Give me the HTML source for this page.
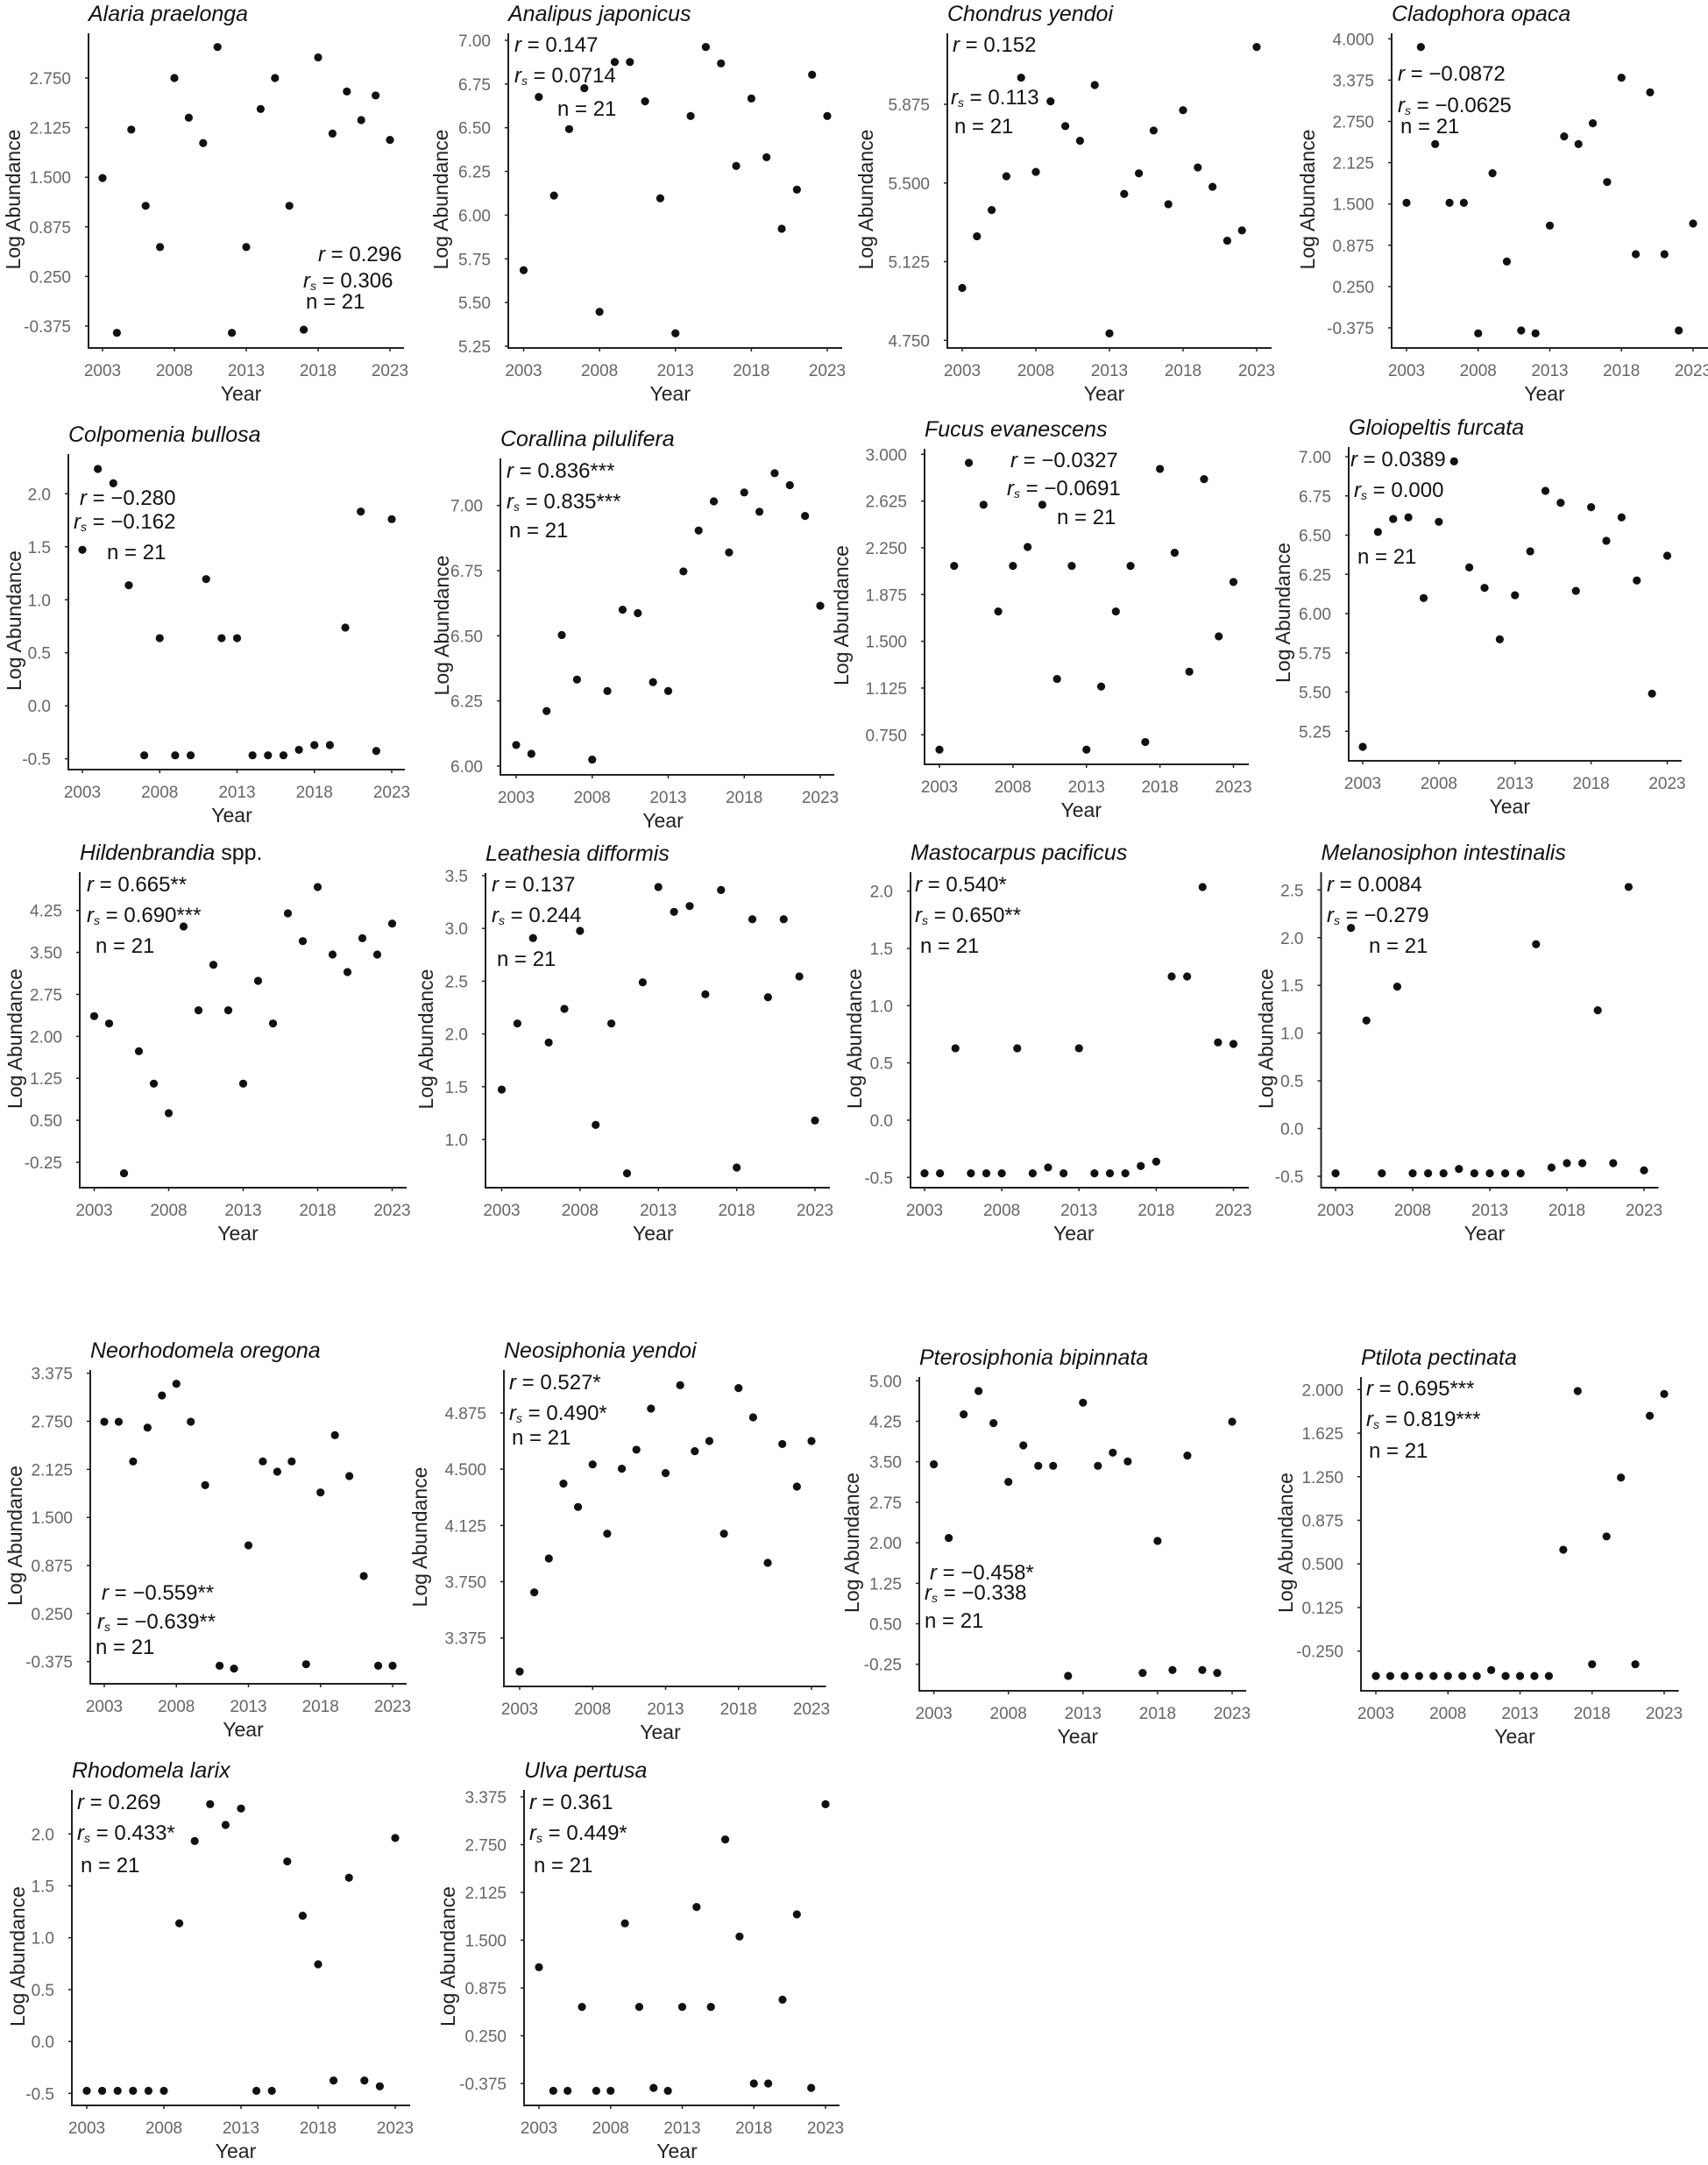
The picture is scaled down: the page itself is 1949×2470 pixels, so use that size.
<!DOCTYPE html>
<html><head><meta charset="utf-8"><style>
html,body{margin:0;padding:0;background:#fff}
svg{display:block}
text{font-family:"Liberation Sans",Arial,sans-serif}
</style></head><body>
<svg id="fig" xmlns="http://www.w3.org/2000/svg" width="1949" height="2470" viewBox="0 0 1949 2470"><rect width="1949" height="2470" fill="#fff"/></svg>
<script>
const years=[2003,2004,2005,2006,2007,2008,2009,2010,2011,2012,2013,2014,2015,2016,2017,2018,2019,2020,2021,2022,2023];
const xTicks=[2003,2008,2013,2018,2023];
const alariaValues=[1.49,-0.46,2.10,1.14,0.62,2.75,2.25,1.93,3.14,-0.46,0.62,2.36,2.75,1.14,-0.42,3.01,2.05,2.58,2.22,2.53,1.97];
const alariaTicks=[-0.375,0.25,0.875,1.5,2.125,2.75];
const analipusValues=[5.685,6.676,6.112,6.492,6.726,5.447,6.876,6.876,6.651,6.096,5.324,6.567,6.962,6.868,6.281,6.667,6.331,5.922,6.146,6.803,6.567];
const analipusTicks=[5.25,5.5,5.75,6.0,6.25,6.5,6.75,7.0];
const chondrusValues=[5.00,5.246,5.371,5.532,6.002,5.553,5.889,5.771,5.701,5.967,4.783,5.448,5.546,5.750,5.399,5.847,5.574,5.482,5.225,5.274,6.148];
const chondrusTicks=[4.75,5.125,5.5,5.875];
const cladophoraValues=[1.518,3.876,2.407,1.518,1.518,-0.459,1.965,0.629,-0.415,-0.459,1.173,2.523,2.407,2.722,1.832,3.412,0.740,3.19,0.740,-0.415,1.204];
const cladophoraTicks=[-0.375,0.25,0.875,1.5,2.125,2.75,3.375,4.0];
const colpomeniaValues=[1.471,2.234,2.099,1.137,-0.467,0.638,-0.467,-0.467,1.195,0.638,0.638,-0.467,-0.467,-0.467,-0.415,-0.370,-0.370,0.738,1.832,-0.426,1.76];
const colpomeniaTicks=[-0.5,0.0,0.5,1.0,1.5,2.0];
const corallinaValues=[6.081,6.047,6.211,6.503,6.332,6.025,6.288,6.600,6.587,6.322,6.288,6.747,6.904,7.016,6.820,7.050,6.976,7.124,7.078,6.960,6.615];
const corallinaTicks=[6.0,6.25,6.5,6.75,7.0];
const fucusValues=[0.631,2.105,2.932,2.595,1.739,2.105,2.257,2.595,1.198,2.105,0.631,1.137,1.739,2.105,0.692,2.883,2.21,1.256,2.801,1.54,1.976];
const fucusTicks=[0.75,1.125,1.5,1.875,2.25,2.625,3.0];
const gloiopeltisValues=[5.151,6.520,6.603,6.613,6.099,6.585,6.970,6.294,6.164,5.836,6.117,6.397,6.782,6.706,6.145,6.678,6.464,6.613,6.211,5.49,6.369];
const gloiopeltisTicks=[5.25,5.5,5.75,6.0,6.25,6.5,6.75,7.0];
const hildenbrandiaValues=[2.361,2.23,-0.447,1.734,1.155,0.628,3.963,2.465,3.279,2.465,1.155,2.992,2.23,4.198,3.702,4.668,3.462,3.149,3.754,3.462,4.015];
const hildenbrandiaTicks=[-0.25,0.5,1.25,2.0,2.75,3.5,4.25];
const leathesiaValues=[1.473,2.099,2.908,1.919,2.238,2.977,1.138,2.099,0.679,2.489,3.392,3.157,3.212,2.376,3.364,0.734,3.087,2.348,3.087,2.545,1.18];
const leathesiaTicks=[1.0,1.5,2.0,2.5,3.0,3.5];
const mastocarpusValues=[-0.464,-0.464,0.628,-0.464,-0.464,-0.464,0.628,-0.464,-0.413,-0.464,0.628,-0.464,-0.464,-0.464,-0.40,-0.362,1.255,1.255,2.036,0.679,0.666];
const mastocarpusTicks=[-0.5,0.0,0.5,1.0,1.5,2.0];
const melanosiphonValues=[-0.469,2.102,1.132,-0.469,1.487,-0.469,-0.469,-0.469,-0.423,-0.469,-0.469,-0.469,-0.469,1.931,-0.408,-0.362,-0.362,1.239,-0.362,2.531,-0.438];
const melanosiphonTicks=[-0.5,0.0,0.5,1.0,1.5,2.0,2.5];
const neorhodomelaValues=[2.744,2.744,2.228,2.668,3.086,3.238,2.744,1.92,-0.428,-0.466,1.137,2.228,2.095,2.228,-0.409,1.825,2.57,2.038,0.738,-0.428,-0.428];
const neorhodomelaTicks=[-0.375,0.25,0.875,1.5,2.125,2.75,3.375];
const neosiphoniaValues=[3.151,3.679,3.905,4.404,4.248,4.532,4.07,4.503,4.63,4.904,4.474,5.06,4.62,4.688,4.07,5.041,4.846,3.876,4.668,4.384,4.688];
const neosiphoniaTicks=[3.375,3.75,4.125,4.5,4.875];
const pterosiphoniaValues=[3.452,2.089,4.378,4.811,4.215,3.128,3.804,3.425,3.425,-0.465,4.594,3.425,3.669,3.506,-0.411,2.035,-0.357,3.615,-0.357,-0.411,4.242];
const pterosiphoniaTicks=[-0.25,0.5,1.25,2.0,2.75,3.5,4.25,5.0];
const ptilotaValues=[-0.464,-0.464,-0.464,-0.464,-0.464,-0.464,-0.464,-0.464,-0.413,-0.464,-0.464,-0.464,-0.464,0.622,1.987,-0.363,0.736,1.243,-0.363,1.774,1.962];
const ptilotaTicks=[-0.25,0.125,0.5,0.875,1.25,1.625,2.0];
const rhodomelaValues=[-0.475,-0.475,-0.475,-0.475,-0.475,-0.475,1.139,1.932,2.287,2.087,2.245,-0.475,-0.475,1.735,1.212,0.744,-0.376,1.578,-0.376,-0.432,1.961];
const rhodomelaTicks=[-0.5,0.0,0.5,1.0,1.5,2.0];
const ulvaValues=[1.146,-0.471,-0.471,0.627,-0.471,-0.471,1.72,0.627,-0.432,-0.471,0.627,1.934,0.627,2.817,1.548,-0.375,-0.375,0.722,1.838,-0.432,3.279];
const ulvaTicks=[-0.375,0.25,0.875,1.5,2.125,2.75,3.375];

const NS='http://www.w3.org/2000/svg';
const svg=document.getElementById('fig');
function mk(tag,attrs,parent){const e=document.createElementNS(NS,tag);for(const k in attrs)e.setAttribute(k,attrs[k]);(parent||svg).appendChild(e);return e;}

const panels=[
{id:'alaria',title:'Alaria praelonga',vals:alariaValues,ticks:alariaTicks,dec:3,L:101,R:461,T:38,B:397,x0:117,x1:445,va:2.75,pa:89,vb:-0.375,pb:372,yo:78,r:'0.296',rs:'0.306',ann:[[363,298],[346,328],[349,352]]},
{id:'analipus',title:'Analipus japonicus',vals:analipusValues,ticks:analipusTicks,dec:2,L:580,R:961,T:38,B:397,x0:597.5,x1:944,va:7.0,pa:46,vb:5.25,pb:395,yo:69,r:'0.147',rs:'0.0714',ann:[[587,59],[587,94],[636,132]]},
{id:'chondrus',title:'Chondrus yendoi',vals:chondrusValues,ticks:chondrusTicks,dec:3,L:1081,R:1451,T:38,B:397,x0:1098,x1:1434,va:5.875,pa:119,vb:4.75,pb:388.3,yo:85,r:'0.152',rs:'0.113',ann:[[1087,59],[1085,119],[1089,152]]},
{id:'cladophora',title:'Cladophora opaca',vals:cladophoraValues,ticks:cladophoraTicks,dec:3,L:1588,R:1949,T:38,B:397,x0:1605,x1:1932,va:4.0,pa:44.3,vb:-0.375,pb:374,yo:88,r:'\u22120.0872',rs:'\u22120.0625',ann:[[1595,92],[1595,128],[1598,152]]},
{id:'colpomenia',title:'Colpomenia bullosa',vals:colpomeniaValues,ticks:colpomeniaTicks,dec:1,L:78,R:462,T:518,B:878,x0:94,x1:447,va:2.0,pa:563.3,vb:-0.5,pb:865.7,yo:54,r:'\u22120.280',rs:'\u22120.162',ann:[[91,576],[84,603],[122,638]]},
{id:'corallina',title:'Corallina pilulifera',vals:corallinaValues,ticks:corallinaTicks,dec:2,L:571,R:952,T:523,B:884,x0:589,x1:936,va:7.0,pa:576.7,vb:6.0,pb:874,yo:59,r:'0.836***',rs:'0.835***',ann:[[578,545],[578,580],[581,613]]},
{id:'fucus',title:'Fucus evanescens',vals:fucusValues,ticks:fucusTicks,dec:3,L:1055,R:1425,T:512,B:872,x0:1072,x1:1407.5,va:3.0,pa:518.3,vb:0.75,pb:838.3,yo:87,r:'\u22120.0327',rs:'\u22120.0691',ann:[[1153,533],[1149,565],[1206,598]]},
{id:'gloiopeltis',title:'Gloiopeltis furcata',vals:gloiopeltisValues,ticks:gloiopeltisTicks,dec:2,L:1539,R:1919,T:510,B:868,x0:1555,x1:1902.5,va:7.0,pa:521,vb:5.25,pb:834.3,yo:67,r:'0.0389',rs:'0.000',ann:[[1541,532],[1545,567],[1549,643]]},
{id:'hildenbrandia',title:'Hildenbrandia',suffix:' spp.',vals:hildenbrandiaValues,ticks:hildenbrandiaTicks,dec:2,L:91,R:464,T:995,B:1355,x0:107.5,x1:447.5,va:4.25,pa:1038.7,vb:-0.25,pb:1326,yo:66,r:'0.665**',rs:'0.690***',ann:[[99,1017],[99,1052],[109,1087]]},
{id:'leathesia',title:'Leathesia difformis',vals:leathesiaValues,ticks:leathesiaTicks,dec:1,L:554,R:947,T:996,B:1355,x0:572.5,x1:930,va:3.5,pa:999,vb:1.0,pb:1300,yo:60,r:'0.137',rs:'0.244',ann:[[561,1017],[561,1052],[567,1102]]},
{id:'mastocarpus',title:'Mastocarpus pacificus',vals:mastocarpusValues,ticks:mastocarpusTicks,dec:1,L:1039,R:1425,T:995,B:1355,x0:1055,x1:1407.5,va:2.0,pa:1016.7,vb:-0.5,pb:1343.3,yo:56,r:'0.540*',rs:'0.650**',ann:[[1044,1017],[1044,1052],[1050,1087]]},
{id:'melanosiphon',title:'Melanosiphon intestinalis',vals:melanosiphonValues,ticks:melanosiphonTicks,dec:1,L:1507.5,R:1892.5,T:995,B:1355,x0:1524,x1:1876,va:2.5,pa:1015.3,vb:-0.5,pb:1342,yo:55,r:'0.0084',rs:'\u22120.279',ann:[[1514,1017],[1514,1052],[1562,1087]]},
{id:'neorhodomela',title:'Neorhodomela oregona',vals:neorhodomelaValues,ticks:neorhodomelaTicks,dec:3,L:103,R:464,T:1563,B:1921,x0:119,x1:448,va:3.375,pa:1566.7,vb:-0.375,pb:1895.7,yo:78,r:'\u22120.559**',rs:'\u22120.639**',ann:[[116,1825],[111,1858],[109,1887]]},
{id:'neosiphonia',title:'Neosiphonia yendoi',vals:neosiphoniaValues,ticks:neosiphoniaTicks,dec:3,L:575,R:942.5,T:1563,B:1924,x0:593,x1:926,va:4.875,pa:1612,vb:3.375,pb:1868.7,yo:88,r:'0.527*',rs:'0.490*',ann:[[581,1585],[581,1620],[584,1648]]},
{id:'pterosiphonia',title:'Pterosiphonia bipinnata',vals:pterosiphoniaValues,ticks:pterosiphoniaTicks,dec:2,L:1049,R:1422,T:1571,B:1929,x0:1065.6,x1:1406,va:5.0,pa:1575.3,vb:-0.25,pb:1898.7,yo:69,r:'\u22120.458*',rs:'\u22120.338',ann:[[1061,1802],[1055,1825],[1055,1857]]},
{id:'ptilota',title:'Ptilota pectinata',vals:ptilotaValues,ticks:ptilotaTicks,dec:3,L:1553,R:1915.6,T:1571,B:1929,x0:1570,x1:1899,va:2.0,pa:1585.3,vb:-0.25,pb:1883.7,yo:78,r:'0.695***',rs:'0.819***',ann:[[1559,1592],[1559,1627],[1562,1663]]},
{id:'rhodomela',title:'Rhodomela larix',vals:rhodomelaValues,ticks:rhodomelaTicks,dec:1,L:82,R:468,T:2042,B:2402,x0:99,x1:451,va:2.0,pa:2092.3,vb:-0.5,pb:2388.3,yo:54,r:'0.269',rs:'0.433*',ann:[[88,2064],[88,2099],[92,2136]]},
{id:'ulva',title:'Ulva pertusa',vals:ulvaValues,ticks:ulvaTicks,dec:3,L:598,R:958,T:2042,B:2402,x0:615,x1:942,va:3.375,pa:2050,vb:-0.375,pb:2377,yo:79,r:'0.361',rs:'0.449*',ann:[[604,2064],[604,2099],[609,2136]]}
];

panels.forEach(p=>{
  const g=mk('g',{});
  
  
  const xs=yr=>p.x0+(yr-2003)*(p.x1-p.x0)/20;
  const ys=v=>p.pa+(v-p.va)*(p.pb-p.pa)/(p.vb-p.va);
  const t=mk('text',{x:p.L,y:p.T-14,'font-size':25,'font-style':'italic',fill:'#111'},g);
  
  
  t.textContent=p.title;
  if(p.suffix){const s=mk('tspan',{'font-style':'normal'},t);s.textContent=p.suffix;}
  const ya=mk('line',{x1:p.L,y1:p.T,x2:p.L,y2:p.B,stroke:'#222','stroke-width':2},g);
  
  
  const xa=mk('line',{x1:p.L-1,y1:p.B,x2:p.R,y2:p.B,stroke:'#222','stroke-width':2},g);
  
  
  p.ticks.forEach(v=>{
    const y=ys(v);
    mk('line',{x1:p.L-4,y1:y,x2:p.L,y2:y,stroke:'#222','stroke-width':1.5},g);
    const tl=mk('text',{x:p.L-20,y:y+7,'font-size':19,fill:'#666','text-anchor':'end'},g);
    
    
    tl.textContent=v.toFixed(p.dec);
  });
  xTicks.forEach(yr=>{
    const x=xs(yr);
    mk('line',{x1:x,y1:p.B,x2:x,y2:p.B+4,stroke:'#222','stroke-width':1.5},g);
    const tl=mk('text',{x:x,y:p.B+32,'font-size':19,fill:'#666','text-anchor':'middle'},g);
    
    
    tl.textContent=yr;
  });
  const xt=mk('text',{x:(p.x0+p.x1)/2-6,y:p.B+60,'font-size':23,fill:'#222','text-anchor':'middle'},g);
  
  
  xt.textContent='Year';
  const ym=(p.T+p.B)/2+10;
  const yx=p.L-p.yo;
  const yt=mk('text',{x:yx,y:ym,'font-size':23,fill:'#222','text-anchor':'middle',transform:'rotate(-90 '+yx+' '+ym+')'},g);
  
  
  yt.textContent='Log Abundance';
  years.forEach((yr,i)=>{
    const c=mk('circle',{cx:xs(yr),cy:ys(p.vals[i]),r:4.6,fill:'#111'},g);
    
    
  });
  const a1=mk('text',{x:p.ann[0][0],y:p.ann[0][1],'font-size':24,fill:'#111'},g);
  
  
  const i1=mk('tspan',{'font-style':'italic'},a1);i1.textContent='r';
  const v1=mk('tspan',{},a1);v1.textContent=' = '+p.r;
  const a2=mk('text',{x:p.ann[1][0],y:p.ann[1][1],'font-size':24,fill:'#111'},g);
  
  
  const i2=mk('tspan',{'font-style':'italic'},a2);i2.textContent='r';
  const s2=mk('tspan',{'font-style':'italic','font-size':14,dy:3},a2);s2.textContent='s';
  const v2=mk('tspan',{dy:-3},a2);v2.textContent=' = '+p.rs;
  const a3=mk('text',{x:p.ann[2][0],y:p.ann[2][1],'font-size':24,fill:'#111'},g);
  
  
  a3.textContent='n = 21';
});
</script>
</body></html>
